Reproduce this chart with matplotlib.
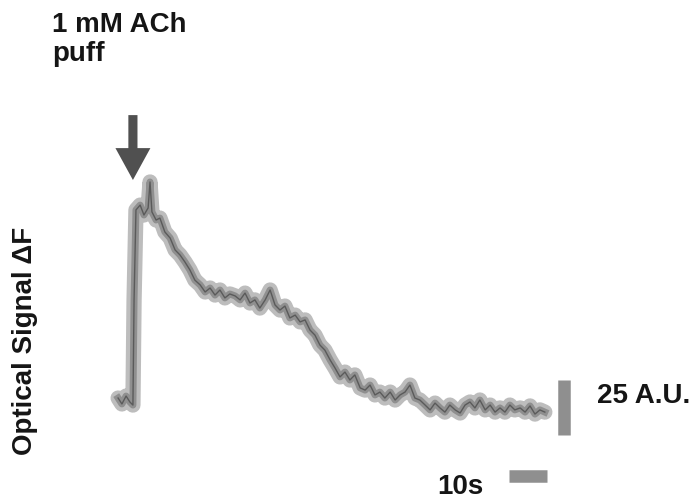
import matplotlib.pyplot as plt

plt.rcParams['font.family'] = ['Liberation Sans', 'DejaVu Sans']

# trace: time (s) after start, signal (A.U.)
t = [-0.5, 0.5, 1.6, 2.6, 3.4, 3.7, 4.2, 5.3, 6.3, 7.4, 7.9, 8.4, 9.5, 10.5,
     11.8, 13.2, 14.5, 15.8, 17.1, 18.4, 19.7, 21.1, 22.4, 23.7, 25.0, 26.3,
     27.6, 28.9, 30.3, 31.6, 32.9, 34.2, 35.5, 36.8, 38.2, 39.5, 40.8, 42.1,
     43.4, 44.7, 46.1, 47.4, 48.7, 50.0, 51.3, 52.6, 53.9, 55.3, 56.6, 57.9,
     59.2, 60.5, 61.8, 63.2, 64.5, 65.8, 67.1, 68.4, 69.7, 71.1, 72.4, 73.7,
     75.0, 76.3, 77.6, 78.9, 80.3, 81.6, 82.9, 84.2, 85.5, 86.8, 88.2, 89.5,
     90.8, 92.1, 93.4, 94.7, 96.1, 97.4, 98.7, 100.0, 101.3, 102.6, 103.9,
     105.3, 106.6, 107.9, 109.2, 110.5, 111.8]
signal = [0.9, -1.8, 1.8, -0.9, -2.3, 45.5, 86.4, 88.6, 84.1, 87.3, 99.1, 85.5,
          81.8, 82.7, 76.4, 73.6, 68.2, 65.9, 62.7, 59.1, 54.5, 52.3, 49.1, 50.9,
          47.7, 50.0, 46.4, 48.2, 47.3, 45.5, 48.6, 44.1, 45.5, 41.8, 45.5, 50.0,
          43.2, 40.9, 42.7, 37.3, 38.6, 35.5, 36.4, 31.8, 29.5, 25.0, 22.7, 18.2,
          14.5, 10.5, 12.7, 9.1, 11.4, 5.5, 4.5, 6.8, 2.3, 3.6, 0.9, 3.6, 0.0,
          2.3, 3.6, 6.8, 0.9, 0.0, -2.3, -4.5, -1.4, -3.6, -5.5, -2.3, -4.5,
          -5.9, -2.3, -0.9, -3.6, 0.0, -4.5, -2.3, -5.5, -3.6, -5.5, -2.3, -4.5,
          -3.6, -5.5, -2.7, -6.4, -4.5, -5.5]

puff_time = 3.4      # s, arrow position
puff_top = 129.5     # A.U.
puff_tip = 100.0
bar_au = 25          # vertical scale bar
bar_s = 10           # horizontal scale bar

fig = plt.figure(figsize=(6.99, 5.04), dpi=100)
ax = fig.add_axes([0, 0, 1, 1])
ax.set_xlim(-31.58, 152.37)
ax.set_ylim(-47.27, 181.82)
ax.axis('off')

# noisy halftone-looking trace
ax.plot(t, signal, color='#bdbdbd', lw=11, solid_joinstyle='round', solid_capstyle='round')
ax.plot(t, signal, color='#8f8f8f', lw=5, solid_joinstyle='round')
ax.plot(t, signal, color='#444444', lw=1.0, alpha=0.7)

# puff arrow
ax.arrow(puff_time, puff_top, 0, puff_tip - puff_top, width=2.4, head_width=9.2,
         head_length=14.5, length_includes_head=True, color='#505050', lw=0)

# scale bars
ax.plot([116.8, 116.8], [-15.9, -15.9 + bar_au], color='#8f8f8f', lw=9, solid_capstyle='butt')
ax.plot([102.4, 102.4 + bar_s], [-34.5, -34.5], color='#8f8f8f', lw=9, solid_capstyle='butt')

kw = dict(fontsize=20, fontweight='bold', color='#151515')
fig.text(52 / 699, 1 - 12 / 504, '1 mM ACh\npuff', ha='left', va='top', linespacing=1.15,
         **kw)
fig.text(597 / 699, 1 - 403 / 504, '25 A.U.', ha='left', va='baseline', **kw)
fig.text(437 / 699, 1 - 494 / 504, '10s', ha='left', va='baseline', **kw)
fig.text(25 / 699, 1 - 455 / 504, 'Optical Signal \u0394F', rotation=90,
         ha='center', va='bottom', **kw)

fig.savefig('out.png', dpi=100)
